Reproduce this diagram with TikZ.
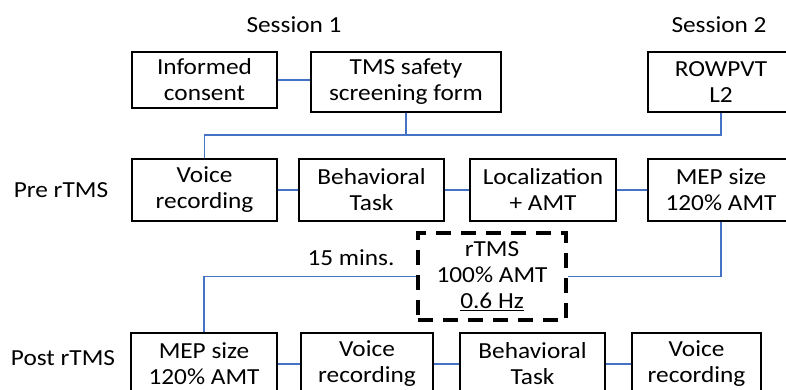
\documentclass[tikz,border=0pt]{standalone}
\usepackage{fontspec}
\setmainfont{Carlito}[FakeStretch=1.1]
\usepackage{tikz}
\definecolor{linkblue}{HTML}{4472C4}

\begin{document}
\begin{tikzpicture}[x=1pt,y=-1pt,
    every node/.style={font=\fontsize{23}{26}\selectfont,align=center,inner sep=0pt},
    box/.style={draw,line width=1.3pt,minimum height=62pt},
    rtmsbox/.style={draw,line width=3.5pt,dash pattern=on 15pt off 10pt,minimum width=148pt,minimum height=87pt},
    link/.style={draw=linkblue,line width=1.3pt}]
  \useasboundingbox (0,0) rectangle (786,389);
  \clip (0,0) rectangle (786,389);
  % session 1 / session 2
  \node (s1) at (294,25) {Session 1};
  \node (s2) at (719,25) {Session 2};
  \node[box,minimum width=145pt,minimum height=56pt] (consent) at (204.5,80) {Informed\\consent};
  \node[box,minimum width=190pt,minimum height=60pt] (screen) at (406,82) {TMS safety\\screening form};
  \node[box,minimum width=146pt,minimum height=60pt] (rowpvt) at (721,82) {ROWPVT\\L2};
  % pre rTMS
  \node (pre) at (61,190) {Pre rTMS};
  \node[box,minimum width=145pt] (voice1) at (204.5,190) {Voice\\recording};
  \node[box,minimum width=145pt] (task1) at (371.5,190) {Behavioral\\Task};
  \node[box,minimum width=146pt] (loc) at (543,190) {Localization\\+ AMT};
  \node[box,minimum width=146pt] (mep1) at (721,190) {MEP size\\120\% AMT};
  % rTMS
  \node[rtmsbox] (rtms) at (492,276.5) {rTMS\\100\% AMT\\\underline{0.6 Hz}};
  \node (wait) at (351,258) {15 mins.};
  % post rTMS
  \node (post) at (63,358) {Post rTMS};
  \node[box,minimum width=146pt] (mep2) at (204,364) {MEP size\\120\% AMT};
  \node[box,minimum width=132pt] (voice2) at (367,364) {Voice\\recording};
  \node[box,minimum width=145pt] (task2) at (532.5,364) {Behavioral\\Task};
  \node[box,minimum width=129pt] (voice3) at (696.5,364) {Voice\\recording};

  \coordinate (bus) at (0,135);
  \path[link] (consent.east) -- (consent.east -| screen.west);
  \path[link] (voice1.north) |- (bus -| screen.south) -- (screen.south);
  \path[link] (bus -| screen.south) -| (rowpvt.south);
  \path[link] (voice1) edge (task1) (task1) edge (loc) (loc) edge (mep1);
  \path[link] (mep1.south) |- (rtms.east);
  \path[link] (rtms.west) -| (mep2.north);
  \path[link] (mep2) edge (voice2) (voice2) edge (task2) (task2) edge (voice3);
\end{tikzpicture}
\end{document}
